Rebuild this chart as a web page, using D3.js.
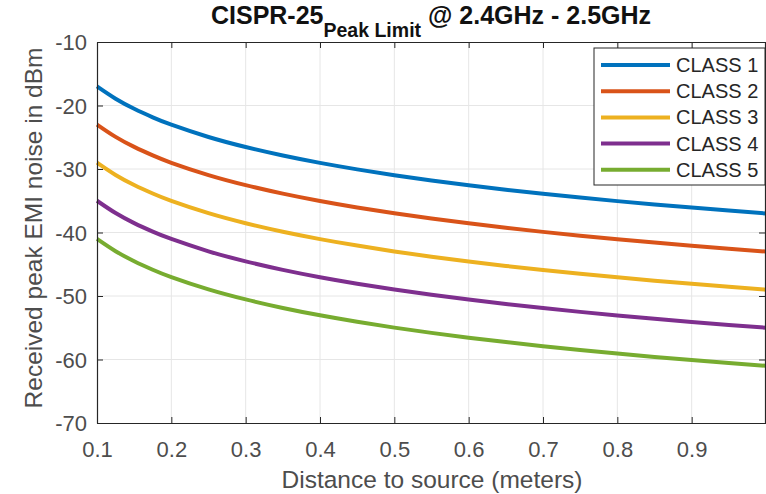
<!DOCTYPE html>
<html>
<head>
<meta charset="utf-8">
<script src="https://cdn.jsdelivr.net/npm/d3@7"></script>
<style>
  body { margin: 0; background: #fff; }
  svg { font-family: "Liberation Sans", Arial, sans-serif; }
</style>
</head>
<body>
<svg id="chart"></svg>
<script>
// DATOS
const distances = [0.1, 0.125, 0.15, 0.175, 0.2, 0.25, 0.3, 0.35, 0.4, 0.45, 0.5, 0.55, 0.6, 0.65, 0.7, 0.75, 0.8, 0.85, 0.9, 0.95, 1.0];
const class1 = [-17, -18.94, -20.52, -21.86, -23.02, -24.96, -26.54, -27.88, -29.04, -30.06, -30.98, -31.81, -32.56, -33.26, -33.90, -34.50, -35.06, -35.59, -36.08, -36.55, -37];
const class2 = [-23, -24.94, -26.52, -27.86, -29.02, -30.96, -32.54, -33.88, -35.04, -36.06, -36.98, -37.81, -38.56, -39.26, -39.90, -40.50, -41.06, -41.59, -42.08, -42.55, -43];
const class3 = [-29, -30.94, -32.52, -33.86, -35.02, -36.96, -38.54, -39.88, -41.04, -42.06, -42.98, -43.81, -44.56, -45.26, -45.90, -46.50, -47.06, -47.59, -48.08, -48.55, -49];
const class4 = [-35, -36.94, -38.52, -39.86, -41.02, -42.96, -44.54, -45.88, -47.04, -48.06, -48.98, -49.81, -50.56, -51.26, -51.90, -52.50, -53.06, -53.59, -54.08, -54.55, -55];
const class5 = [-41, -42.94, -44.52, -45.86, -47.02, -48.96, -50.54, -51.88, -53.04, -54.06, -54.98, -55.81, -56.56, -57.26, -57.90, -58.50, -59.06, -59.59, -60.08, -60.55, -61];
const seriesNames = ["CLASS 1", "CLASS 2", "CLASS 3", "CLASS 4", "CLASS 5"];
const seriesValues = [class1, class2, class3, class4, class5];
const xTicks = [0.1, 0.2, 0.3, 0.4, 0.5, 0.6, 0.7, 0.8, 0.9];
const yTicks = [-10, -20, -30, -40, -50, -60, -70];

const colors = ["#0072BD", "#D95319", "#EDB120", "#7E2F8E", "#77AC30"];

// TAMAÑO
const width = 766, height = 494;
const margin = { left: 97, right: 0, top: 42, bottom: 71 };

const svg = d3.select("#chart")
  .attr("width", width)
  .attr("height", height);

// ESCALAS
const x = d3.scaleLinear().domain([0.1, 1.0]).range([margin.left, width - margin.right]);
const y = d3.scaleLinear().domain([-70, -10]).range([height - margin.bottom, margin.top]);

const axisColor = "#262626";

// REJILLA
svg.append("g").selectAll("line")
  .data(xTicks.slice(1))
  .enter().append("line")
  .attr("x1", d => x(d)).attr("x2", d => x(d))
  .attr("y1", y(-70)).attr("y2", y(-10))
  .attr("stroke", "#e6e6e6").attr("stroke-width", 1);

svg.append("g").selectAll("line")
  .data(yTicks.slice(1, -1))
  .enter().append("line")
  .attr("x1", x(0.1)).attr("x2", x(1.0))
  .attr("y1", d => y(d)).attr("y2", d => y(d))
  .attr("stroke", "#e6e6e6").attr("stroke-width", 1);

// LINEAS
const line = d3.line()
  .x(d => x(d[0]))
  .y(d => y(d[1]))
  .curve(d3.curveNatural);

const plot = svg.append("g");
seriesValues.forEach((vals, i) => {
  plot.append("path")
    .datum(distances.map((dd, j) => [dd, vals[j]]))
    .attr("fill", "none")
    .attr("stroke", colors[i])
    .attr("stroke-width", 4)
    .attr("d", line);
});

// EJES (caja con ticks hacia dentro)
const xAxisB = d3.axisBottom(x).tickValues(xTicks).tickSizeInner(-6).tickSizeOuter(0).tickPadding(18).tickFormat(d3.format(".1f"));
const yAxisL = d3.axisLeft(y).tickValues(yTicks).tickSizeInner(-6).tickSizeOuter(0).tickPadding(10).tickFormat(d => d);

const gx = svg.append("g").attr("transform", `translate(0,${y(-70)})`).call(xAxisB);
const gy = svg.append("g").attr("transform", `translate(${x(0.1)},0)`).call(yAxisL);
const gxt = svg.append("g").attr("transform", `translate(0,${y(-10)})`)
  .call(d3.axisTop(x).tickValues(xTicks).tickSizeInner(-6).tickSizeOuter(0).tickFormat(""));
const gyr = svg.append("g").attr("transform", `translate(${x(1.0) - 1},0)`)
  .call(d3.axisRight(y).tickValues(yTicks).tickSizeInner(-6).tickSizeOuter(0).tickFormat(""));

[gx, gy, gxt, gyr].forEach(g => {
  g.select(".domain").attr("stroke", axisColor).attr("stroke-width", 1.2);
  g.selectAll(".tick line").attr("stroke", axisColor);
  g.selectAll(".tick text").attr("fill", "#4d4d4d").style("font-size", "22px")
    .style("font-family", "'Liberation Sans', Arial, sans-serif");
});
gy.selectAll(".tick text").attr("dy", "0.36em");

// TITULO
const title = svg.append("text")
  .attr("x", 431).attr("y", 24)
  .attr("text-anchor", "middle")
  .attr("fill", "#111")
  .style("font-weight", "bold")
  .style("font-size", "25px");
title.append("tspan").text("CISPR-25");
title.append("tspan").attr("dy", 13).style("font-size", "19.5px").text("Peak Limit");
title.append("tspan").attr("dy", -13).text(" @ 2.4GHz - 2.5GHz");

// ETIQUETAS EJES
svg.append("text")
  .attr("x", 432).attr("y", 488)
  .attr("text-anchor", "middle")
  .attr("fill", "#4d4d4d")
  .style("font-size", "24.5px")
  .text("Distance to source (meters)");

svg.append("text")
  .attr("transform", `translate(42,228) rotate(-90)`)
  .attr("text-anchor", "middle")
  .attr("fill", "#4d4d4d")
  .style("font-size", "24.5px")
  .text("Received peak EMI noise in dBm");

// LEYENDA
const legend = svg.append("g").attr("transform", "translate(594,48)");
legend.append("rect")
  .attr("width", 171).attr("height", 137)
  .attr("fill", "#fff").attr("stroke", axisColor).attr("stroke-width", 1);
seriesNames.forEach((name, i) => {
  const ly = 17 + i * 26.2;
  legend.append("line")
    .attr("x1", 7).attr("x2", 76).attr("y1", ly).attr("y2", ly)
    .attr("stroke", colors[i]).attr("stroke-width", 4);
  legend.append("text")
    .attr("x", 82).attr("y", ly + 7)
    .attr("fill", "#262626")
    .style("font-size", "20px")
    .text(name);
});
</script>
</body>
</html>
